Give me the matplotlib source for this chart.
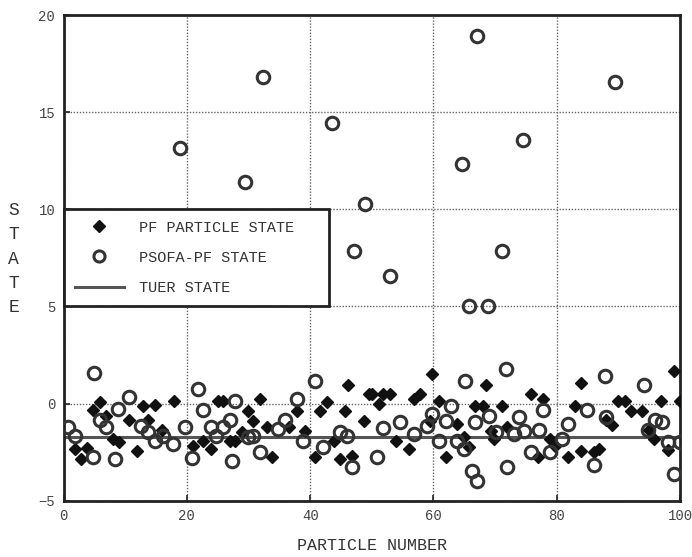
import matplotlib
matplotlib.use("Agg")
import matplotlib.pyplot as plt
from matplotlib.lines import Line2D

# ---- data ----
pf_x = [5.85, 4.8, 6.9, 10.7, 12.9, 14.8, 18.0, 13.7, 15.9, 8.0, 9.0, 1.8, 2.9, 3.8, 11.9, 21.0, 24.0, 22.7, 25.1,
        25.9, 31.9, 30.0, 30.8, 27.0, 27.8, 28.9, 33.0, 33.8, 36.5, 37.8, 39.2, 40.8, 41.6, 42.7, 45.7, 46.1, 48.7, 49.5, 43.8, 44.9, 46.8,
        50.0, 51.1, 51.9, 53.0, 56.8, 57.9, 54.0, 56.0, 59.8, 60.9, 59.5, 63.9, 62.1, 66.8, 68.1, 68.6, 71.2, 69.3, 65.7, 64.9, 69.8, 72.0,
        75.9, 77.8, 76.9, 78.9, 79.8, 81.8, 82.9, 84.0, 83.9, 86.1, 86.9, 88.0, 89.0, 89.9, 91.0, 92.0, 93.9, 96.9, 99.0, 100.0, 95.8, 98.0, 95.0]
pf_y = [0.1, -0.33, -0.62, -0.84, -0.1, -0.05, 0.12, -0.84, -1.36, -1.82, -2.0, -2.34, -2.85, -2.29, -2.42, -2.16, -2.34, -1.9, 0.12,
        0.15, 0.24, -0.36, -0.88, -1.9, -1.9, -1.48, -1.22, -2.73, -1.22, -0.4, -1.39, -2.73, -0.36, 0.07, -0.36, 0.98, -0.88, 0.5, -1.9, -2.85, -2.68,
        0.5, -0.02, 0.5, 0.5, 0.24, 0.5, -1.9, -2.34, 1.53, 0.12, -0.88, -1.05, -2.73, -0.1, -0.1, 0.98, -0.1, -1.39, -2.25, -1.74, -1.82, -1.22,
        0.5, 0.24, -2.77, -1.82, -2.16, -2.73, -0.1, 1.05, -2.42, -2.51, -2.34, -0.84, -1.08, 0.12, 0.12, -0.4, -0.4, 0.12, 1.7, 0.12, -1.82, -2.39, -1.36]

pso_x = [5.0, 0.7, 1.8, 4.8, 8.3, 5.85, 6.9, 8.8, 10.7, 12.6, 13.7, 14.8, 17.8, 19.7, 21.8, 22.7, 24.0, 20.9, 16.1,
         27.8, 27.0, 25.9, 24.8, 27.3, 30.0, 30.8, 31.9, 34.8, 35.9, 37.8, 38.9, 40.8, 42.1, 44.9, 45.9, 46.8,
         50.8, 51.8, 54.6, 56.8, 59.0, 59.8, 60.9, 62.0, 62.8, 63.9, 64.9, 65.2, 66.3, 67.1, 66.8, 69.0, 70.1, 71.7, 72.0, 73.8,
         77.8, 77.1, 74.7, 73.1, 75.8, 78.9, 80.9, 81.8, 84.9, 86.0, 87.8, 88.0, 94.1, 94.8, 95.9, 97.0, 98.0, 99.0, 100.0,
         18.9, 29.4, 32.4, 43.6, 48.9, 47.1, 52.9, 64.6, 67.1, 74.5, 71.2, 89.4, 65.8, 68.8]
pso_y = [1.55, -1.22, -1.65, -2.73, -2.84, -0.83, -1.22, -0.27, 0.36, -1.13, -1.48, -1.9, -2.08, -1.22, 0.76, -0.33, -1.22, -2.8, -1.65,
         0.15, -0.84, -1.22, -1.65, -2.94, -1.74, -1.65, -2.51, -1.3, -0.84, 0.24, -1.9, 1.15, -2.25, -1.48, -1.65, -3.25,
         -2.73, -1.25, -0.96, -1.56, -1.13, -0.53, -1.9, -0.88, -0.1, -1.9, -2.34, 1.15, -3.45, -4.0, -0.96, -0.62, -1.48, 1.79, -3.28, -0.71,
         -0.33, -1.36, -1.39, -1.56, -2.51, -2.51, -1.82, -1.05, -0.33, -3.16, 1.44, -0.71, 0.98, -1.36, -0.84, -0.96, -2.0, -3.62, -2.0,
         13.14, 11.43, 16.8, 14.45, 10.28, 7.87, 6.59, 12.34, 18.94, 13.59, 7.87, 16.57, 5.04, 5.0]

tuer_value = -1.7

x_ticks = [0, 20, 40, 60, 80, 100]
y_ticks = [-5, 0, 5, 10, 15, 20]
labels = ["PF PARTICLE STATE", "PSOFA-PF STATE", "TUER STATE"]

font = "Liberation Mono"

fig = plt.figure(figsize=(6.92, 5.57), dpi=100)
ax = fig.add_axes([0.0918, 0.101, 0.8909, 0.872])

ax.axhline(tuer_value, color="#555555", lw=2.2, zorder=2)
ax.plot(pf_x, pf_y, linestyle="none", marker="D", markersize=6, color="#111111", zorder=3)
ax.plot(pso_x, pso_y, linestyle="none", marker="o", markersize=9, markerfacecolor="none",
        markeredgecolor="#333333", markeredgewidth=2.2, zorder=4)

ax.set_xlim(0, 100)
ax.set_ylim(-5, 20)
ax.set_xticks(x_ticks)
ax.set_yticks(y_ticks)
ax.grid(True, linestyle=(0, (1, 1.2)), color="#666666", linewidth=1.0)
ax.set_axisbelow(True)
for sp in ax.spines.values():
    sp.set_linewidth(2.0)
    sp.set_color("#222222")
ax.tick_params(direction="in", length=4, width=1.2, colors="#222222", labelsize=10, pad=6)
for lab in ax.get_xticklabels() + ax.get_yticklabels():
    lab.set_fontfamily(font)
    lab.set_color("#444444")

ax.set_xlabel("PARTICLE NUMBER", fontfamily=font, fontsize=12, color="#333333", labelpad=11)
fig.text(0.02, 0.535, "S\nT\nA\nT\nE", fontfamily=font, fontsize=13, color="#333333",
         ha="center", va="center", linespacing=1.55)

handles = [
    Line2D([], [], linestyle="none", marker="D", markersize=6, color="#111111"),
    Line2D([], [], linestyle="none", marker="o", markersize=8, markerfacecolor="none",
           markeredgecolor="#333333", markeredgewidth=2.2),
    Line2D([], [], color="#555555", lw=2.2),
]
leg = ax.legend(handles, labels, loc="upper left", bbox_to_anchor=(0.0, 0.4, 0.43, 0.2),
                mode="expand", borderaxespad=0, fancybox=False, framealpha=1,
                edgecolor="#222222", prop={"family": font, "size": 11},
                handlelength=3.2, handletextpad=1.0, labelspacing=1.05, borderpad=0.75)
leg.get_frame().set_linewidth(2.0)
for t in leg.get_texts():
    t.set_color("#333333")

fig.savefig("out.png", dpi=100)
